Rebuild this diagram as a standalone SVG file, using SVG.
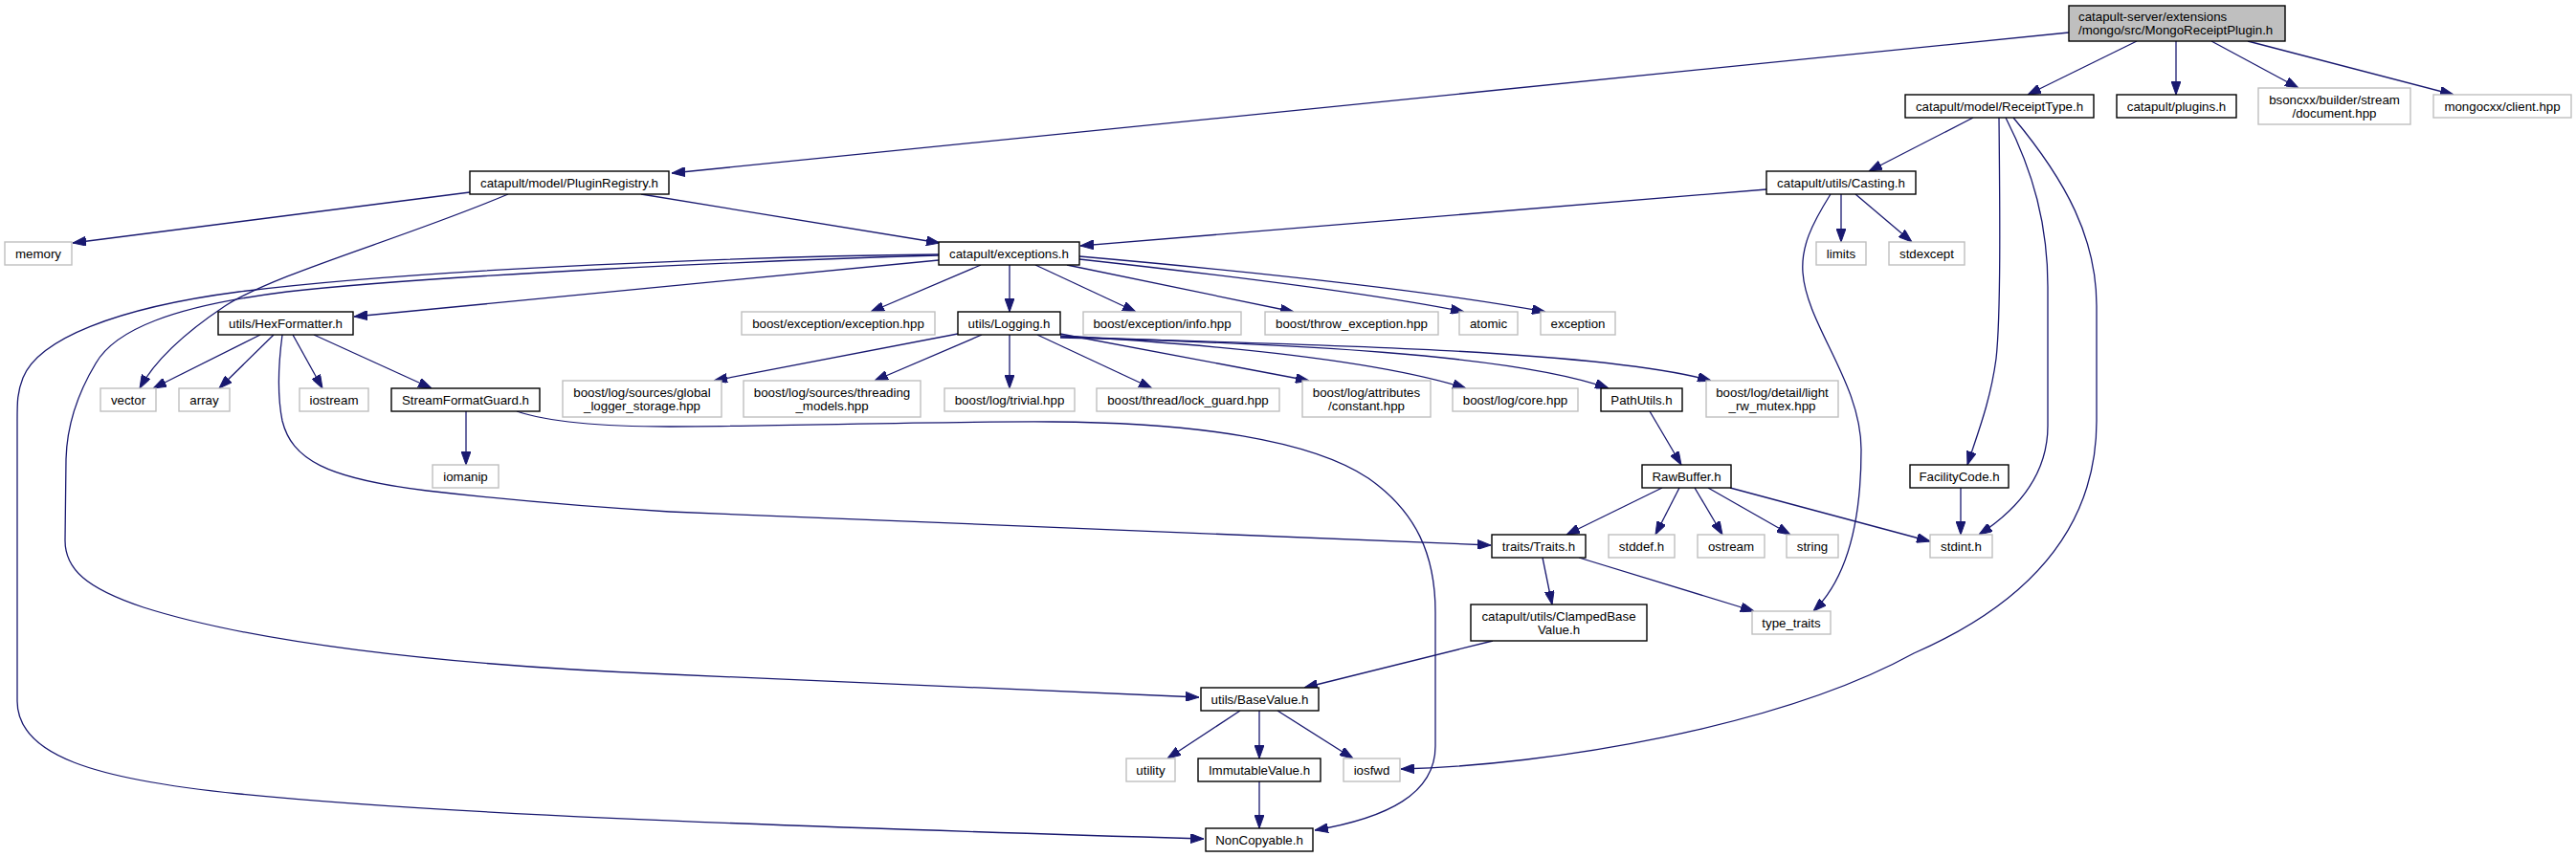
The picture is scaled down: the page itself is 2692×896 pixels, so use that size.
<svg xmlns="http://www.w3.org/2000/svg" width="2692" height="896" viewBox="0 0 2692 896">
<style>
.n rect{fill:#fff;stroke:#000;stroke-width:1.4}
.g rect{fill:#fff;stroke:#bfbfbf;stroke-width:1.4}
.r rect{fill:#bfbfbf;stroke:#000;stroke-width:1.4}
text{font-family:"Liberation Sans",Arial,Helvetica,sans-serif;font-size:13.3px;fill:#000;text-anchor:middle}
.r text{text-anchor:start}
#edges path{fill:none;stroke:#191970;stroke-width:1.3;marker-end:url(#ah)}
</style>
<defs>
<marker id="ah" markerUnits="userSpaceOnUse" markerWidth="14" markerHeight="10" refX="14" refY="5" orient="auto">
<path d="M0,0 L14,5 L0,10 z" fill="#191970" stroke="#191970" stroke-width="1"/>
</marker>
</defs>
<rect width="2692" height="896" fill="#fff"/>
<g id="edges">
<path d="M2162,34 L702,181"/>
<path d="M2233,43 L2119,99"/>
<path d="M2274,43 L2274,99"/>
<path d="M2311,43 L2402,92"/>
<path d="M2349,43 L2564,99"/>
<path d="M491,201 L76,254"/>
<path d="M531,203 C420,250 290,285 235,320 C190,350 160,380 146,406"/>
<path d="M670,203 L982,254"/>
<path d="M2062,123 L1953,179"/>
<path d="M2089,123 C2090,220 2091,330 2086,375 C2080,420 2066,455 2056,486"/>
<path d="M2096,123 C2125,180 2140,235 2140,300 L2140,445 C2140,500 2105,535 2068,559"/>
<path d="M2104,123 C2160,190 2191,250 2191,320 L2191,440 C2191,560 2110,635 2000,683 C1860,760 1620,800 1464,804"/>
<path d="M1846,198 L1129,257"/>
<path d="M1924,203 L1924,253"/>
<path d="M1939,203 L1998,253"/>
<path d="M1913,203 C1893,235 1882,258 1884,285 C1888,340 1945,400 1945,470 C1945,560 1925,610 1895,639"/>
<path d="M1025,277 L910,326"/>
<path d="M1055,277 L1055,326"/>
<path d="M1082,277 L1187,326"/>
<path d="M1115,277 L1352,326"/>
<path d="M1128,271 C1300,290 1450,310 1530,326"/>
<path d="M1128,268 C1320,285 1500,305 1615,326"/>
<path d="M981,272 L370,331"/>
<path d="M981,266 C800,268 450,280 250,305 C120,322 40,355 24,395 C18,410 18,420 18,440 L18,733 C18,790 100,815 250,830 C450,850 750,862 1258,877"/>
<path d="M981,267 C800,272 450,288 300,305 C180,320 120,345 100,380 C85,405 70,440 69,480 L68,565 C68,595 90,615 150,635 C260,670 450,695 700,705 L1253,729"/>
<path d="M272,350 L160,406"/>
<path d="M286,350 L229,406"/>
<path d="M306,350 L337,406"/>
<path d="M328,350 L451,406"/>
<path d="M295,350 C291,380 289,410 295,440 C305,480 340,500 446,513 C550,525 650,532 700,535 L1558,570"/>
<path d="M487,430 L487,486"/>
<path d="M540,430 C570,440 620,446 700,446 C800,446 1000,440 1100,441 C1250,442 1370,460 1430,500 C1480,535 1500,580 1500,640 L1500,780 C1500,830 1450,855 1374,868"/>
<path d="M1001,349 L746,398"/>
<path d="M1026,350 L914,398"/>
<path d="M1055,350 L1055,406"/>
<path d="M1084,350 L1204,406"/>
<path d="M1108,349 L1368,398"/>
<path d="M1108,351 C1300,362 1450,380 1532,406"/>
<path d="M1108,352 C1350,360 1580,370 1681,406"/>
<path d="M1108,353 C1400,360 1680,368 1788,398"/>
<path d="M1724,430 L1757,486"/>
<path d="M1737,510 L1637,559"/>
<path d="M1755,510 L1730,559"/>
<path d="M1771,510 L1800,559"/>
<path d="M1785,510 L1871,559"/>
<path d="M1808,510 L2017,566"/>
<path d="M2049,510 L2049,559"/>
<path d="M1612,583 L1622,632"/>
<path d="M1650,583 L1833,639"/>
<path d="M1560,670 L1363,719"/>
<path d="M1296,743 L1220,793"/>
<path d="M1316,743 L1316,793"/>
<path d="M1335,743 L1414,793"/>
<path d="M1316,817 L1316,866"/>
</g>
<g id="root" class="r"><rect x="2162" y="6" width="226" height="37"/><text x="2172" y="22">catapult-server/extensions</text><text x="2172" y="36">/mongo/src/MongoReceiptPlugin.h</text></g>
<g id="PluginRegistry" class="n"><rect x="491" y="179" width="208" height="24"/><text x="595" y="196">catapult/model/PluginRegistry.h</text></g>
<g id="memory" class="g"><rect x="5" y="253" width="70" height="24"/><text x="40" y="270">memory</text></g>
<g id="vector" class="g"><rect x="105" y="406" width="58" height="24"/><text x="134" y="423">vector</text></g>
<g id="exceptions" class="n"><rect x="981" y="253" width="147" height="24"/><text x="1054.5" y="270">catapult/exceptions.h</text></g>
<g id="HexFormatter" class="n"><rect x="228" y="326" width="141" height="24"/><text x="298.5" y="343">utils/HexFormatter.h</text></g>
<g id="array" class="g"><rect x="187" y="406" width="53" height="24"/><text x="213.5" y="423">array</text></g>
<g id="iostream" class="g"><rect x="313" y="406" width="72" height="24"/><text x="349" y="423">iostream</text></g>
<g id="StreamFormatGuard" class="n"><rect x="409" y="406" width="155" height="24"/><text x="486.5" y="423">StreamFormatGuard.h</text></g>
<g id="iomanip" class="g"><rect x="452" y="486" width="69" height="24"/><text x="486.5" y="503">iomanip</text></g>
<g id="NonCopyable" class="n"><rect x="1260" y="866" width="112" height="24"/><text x="1316" y="883">NonCopyable.h</text></g>
<g id="Traits" class="n"><rect x="1559" y="559" width="98" height="24"/><text x="1608" y="576">traits/Traits.h</text></g>
<g id="ClampedBaseValue" class="n"><rect x="1537" y="632" width="184" height="38"/><text x="1629" y="648.5">catapult/utils/ClampedBase</text><text x="1629" y="662.5">Value.h</text></g>
<g id="BaseValue" class="n"><rect x="1255" y="719" width="123" height="24"/><text x="1316.5" y="736">utils/BaseValue.h</text></g>
<g id="utility" class="g"><rect x="1177" y="793" width="51" height="24"/><text x="1202.5" y="810">utility</text></g>
<g id="ImmutableValue" class="n"><rect x="1252" y="793" width="128" height="24"/><text x="1316" y="810">ImmutableValue.h</text></g>
<g id="iosfwd" class="g"><rect x="1404" y="793" width="59" height="24"/><text x="1433.5" y="810">iosfwd</text></g>
<g id="type_traits" class="g"><rect x="1831" y="639" width="82" height="24"/><text x="1872" y="656">type_traits</text></g>
<g id="exception_hpp" class="g"><rect x="775" y="326" width="202" height="24"/><text x="876" y="343">boost/exception/exception.hpp</text></g>
<g id="Logging" class="n"><rect x="1001" y="326" width="107" height="24"/><text x="1054.5" y="343">utils/Logging.h</text></g>
<g id="global_logger" class="g"><rect x="588" y="398" width="166" height="38"/><text x="671" y="414.5">boost/log/sources/global</text><text x="671" y="428.5">_logger_storage.hpp</text></g>
<g id="threading" class="g"><rect x="777" y="398" width="185" height="38"/><text x="869.5" y="414.5">boost/log/sources/threading</text><text x="869.5" y="428.5">_models.hpp</text></g>
<g id="trivial" class="g"><rect x="987" y="406" width="136" height="24"/><text x="1055" y="423">boost/log/trivial.hpp</text></g>
<g id="lock_guard" class="g"><rect x="1146" y="406" width="191" height="24"/><text x="1241.5" y="423">boost/thread/lock_guard.hpp</text></g>
<g id="constant" class="g"><rect x="1361" y="398" width="134" height="38"/><text x="1428" y="414.5">boost/log/attributes</text><text x="1428" y="428.5">/constant.hpp</text></g>
<g id="core" class="g"><rect x="1518" y="406" width="131" height="24"/><text x="1583.5" y="423">boost/log/core.hpp</text></g>
<g id="PathUtils" class="n"><rect x="1673" y="406" width="85" height="24"/><text x="1715.5" y="423">PathUtils.h</text></g>
<g id="RawBuffer" class="n"><rect x="1716" y="486" width="93" height="24"/><text x="1762.5" y="503">RawBuffer.h</text></g>
<g id="stddef" class="g"><rect x="1681" y="559" width="69" height="24"/><text x="1715.5" y="576">stddef.h</text></g>
<g id="ostream" class="g"><rect x="1774" y="559" width="70" height="24"/><text x="1809" y="576">ostream</text></g>
<g id="string" class="g"><rect x="1867" y="559" width="54" height="24"/><text x="1894" y="576">string</text></g>
<g id="stdint" class="g"><rect x="2017" y="559" width="65" height="24"/><text x="2049.5" y="576">stdint.h</text></g>
<g id="light_rw_mutex" class="g"><rect x="1783" y="398" width="138" height="38"/><text x="1852" y="414.5">boost/log/detail/light</text><text x="1852" y="428.5">_rw_mutex.hpp</text></g>
<g id="info_hpp" class="g"><rect x="1132" y="326" width="165" height="24"/><text x="1214.5" y="343">boost/exception/info.hpp</text></g>
<g id="throw_exception" class="g"><rect x="1322" y="326" width="181" height="24"/><text x="1412.5" y="343">boost/throw_exception.hpp</text></g>
<g id="atomic" class="g"><rect x="1525" y="326" width="61" height="24"/><text x="1555.5" y="343">atomic</text></g>
<g id="exception" class="g"><rect x="1610" y="326" width="78" height="24"/><text x="1649" y="343">exception</text></g>
<g id="ReceiptType" class="n"><rect x="1991" y="99" width="197" height="24"/><text x="2089.5" y="116">catapult/model/ReceiptType.h</text></g>
<g id="Casting" class="n"><rect x="1846" y="179" width="156" height="24"/><text x="1924" y="196">catapult/utils/Casting.h</text></g>
<g id="limits" class="g"><rect x="1898" y="253" width="52" height="24"/><text x="1924" y="270">limits</text></g>
<g id="stdexcept" class="g"><rect x="1974" y="253" width="79" height="24"/><text x="2013.5" y="270">stdexcept</text></g>
<g id="FacilityCode" class="n"><rect x="1996" y="486" width="103" height="24"/><text x="2047.5" y="503">FacilityCode.h</text></g>
<g id="plugins" class="n"><rect x="2212" y="99" width="125" height="24"/><text x="2274.5" y="116">catapult/plugins.h</text></g>
<g id="bsoncxx" class="g"><rect x="2360" y="92" width="159" height="38"/><text x="2439.5" y="108.5">bsoncxx/builder/stream</text><text x="2439.5" y="122.5">/document.hpp</text></g>
<g id="mongocxx" class="g"><rect x="2543" y="99" width="144" height="24"/><text x="2615" y="116">mongocxx/client.hpp</text></g>
</svg>
